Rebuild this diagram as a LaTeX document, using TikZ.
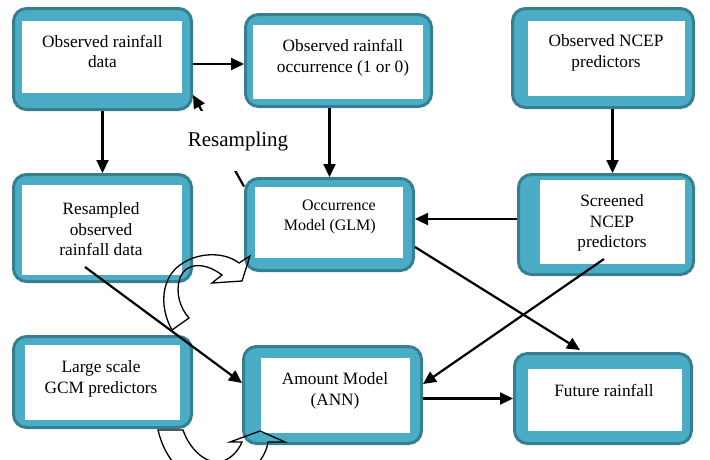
\documentclass[tikz,border=0pt]{standalone}
\usepackage{fontspec}
\setmainfont{Liberation Serif}
\usetikzlibrary{arrows.meta}
\definecolor{boxedge}{HTML}{367F92}
\definecolor{boxfill}{HTML}{4BACC6}

\begin{document}
\begin{tikzpicture}[x=1pt,y=-1pt,
		tealbox/.style={draw=boxedge,fill=boxfill,line width=3pt,rounded corners=13pt,inner sep=0pt},
		whitebox/.style={fill=white,inner sep=0pt},
		boxtext/.style={align=center,inner sep=0pt,font=\fontsize{17.3}{20.5}\selectfont},
		flow/.style={line width=2.2pt,-{Triangle[length=13pt,width=12pt]}},
		hollow/.style={line width=1.3pt,line join=miter}]
	\useasboundingbox (0,0) rectangle (710,459);
	% outer boxes
	\node[tealbox,minimum width=178pt,minimum height=101pt] (obs) at (102.5,59) {};
	\node[tealbox,minimum width=186pt,minimum height=92pt] (occ) at (338.5,60.5) {};
	\node[tealbox,minimum width=181pt,minimum height=99pt] (ncep) at (603,58) {};
	\node[tealbox,minimum width=178pt,minimum height=107pt] (res) at (102.5,228) {};
	\node[tealbox,minimum width=168pt,minimum height=92pt] (glm) at (329.5,224.5) {};
	\node[tealbox,minimum width=175pt,minimum height=100pt] (scr) at (606,224.5) {};
	\node[tealbox,minimum width=178pt,minimum height=91pt] (gcm) at (102.5,382) {};
	\node[tealbox,minimum width=178pt,minimum height=97pt] (ann) at (332.5,395) {};
	\node[tealbox,minimum width=177pt,minimum height=90pt] (fut) at (603,398.5) {};
	% white faces
	\node[whitebox,minimum width=160pt,minimum height=72pt] (obs-in) at (102,57) {};
	\node[whitebox,minimum width=170pt,minimum height=74pt] (occ-in) at (338,62) {};
	\node[whitebox,minimum width=157pt,minimum height=75pt] (ncep-in) at (606.5,58.5) {};
	\node[whitebox,minimum width=160pt,minimum height=90pt] (res-in) at (102,230) {};
	\node[whitebox,minimum width=148pt,minimum height=71pt] (glm-in) at (329,222.5) {};
	\node[whitebox,minimum width=145pt,minimum height=84pt] (scr-in) at (612.5,222) {};
	\node[whitebox,minimum width=155pt,minimum height=75pt] (gcm-in) at (102.5,382.5) {};
	\node[whitebox,minimum width=149pt,minimum height=75pt] (ann-in) at (335.5,395.5) {};
	\node[whitebox,minimum width=154pt,minimum height=62pt] (fut-in) at (605,400) {};
	% labels
	\node[boxtext] (obs-txt) at (102.5,51.5) {Observed rainfall\\data};
	\node[boxtext] (occ-txt) at (343,57.5) {Observed rainfall\\occurrence (1 or 0)};
	\node[boxtext] (ncep-txt) at (606,53) {Observed NCEP\\predictors};
	\node[boxtext] (res-txt) at (101,229.5) {Resampled\\observed\\rainfall data};
	\node[boxtext,align=right,anchor=east,font=\fontsize{16}{19.5}\selectfont] (glm-txt) at (376,217) {Occurrence\\Model (GLM)};
	\node[boxtext] (scr-txt) at (612,223) {Screened\\NCEP\\predictors};
	\node[boxtext] (gcm-txt) at (101,379) {Large scale\\GCM predictors};
	\node[boxtext] (ann-txt) at (335,391) {Amount Model\\(ANN)};
	\node[boxtext] (fut-txt) at (604,390) {Future rainfall};
	% connectors
	\draw[flow] ([yshift=-5pt]obs.east) -- ([yshift=-3.5pt]occ.west);
	\draw[flow] (obs.south) -- (res.north);
	\draw[flow] ([yshift=38pt]glm.west) -- ([yshift=-36pt]obs.east);
	\node[fill=white,inner sep=0pt,minimum width=110pt,minimum height=60pt,font=\fontsize{21}{24}\selectfont] (resamp) at (238,141) {Resampling};
	\draw[flow] (occ.south -| glm.north) -- (glm.north);
	\draw[flow] ([xshift=9.5pt]ncep.south) -- ([xshift=6.5pt]scr.north);
	\draw[flow] ([yshift=5.5pt]scr.west) -- ([yshift=5.5pt]glm.east);
	\draw[flow] ([xshift=-2pt,yshift=17pt]scr.south) -- ([yshift=11pt]ann.east);
	\draw[flow] ([yshift=-22.5pt]glm.east) -- ([xshift=-23pt,yshift=2pt]fut.north);
	\draw[flow] (ann.east |- fut.west) -- (fut.west);
	\draw[flow] ([xshift=-17.5pt,yshift=16pt]res.south) -- ([yshift=12pt]ann.west);
	% hollow curved arrows
	\draw[hollow] (172,330) .. controls (158,305) and (162,275) .. (183,263)
		.. controls (200,252) and (225,252) .. (239,263) -- (250,256) -- (242,281) -- (212,283) -- (222,275)
		.. controls (205,262) and (186,262) .. (180,278) .. controls (175,292) and (180,308) .. (189,318) -- cycle;
	\begin{scope}
		\clip (0,0) rectangle (710,459);
		\draw[hollow] (158,430) -- (183,430) .. controls (190,450) and (205,462) .. (217,462)
			.. controls (228,462) and (238,452) .. (242,442) -- (230,442) -- (260,431) -- (285,442) -- (268,442)
			.. controls (265,462) and (245,482) .. (213,482) .. controls (185,482) and (165,460) .. (158,430) -- cycle;
	\end{scope}
\end{tikzpicture}
\end{document}
